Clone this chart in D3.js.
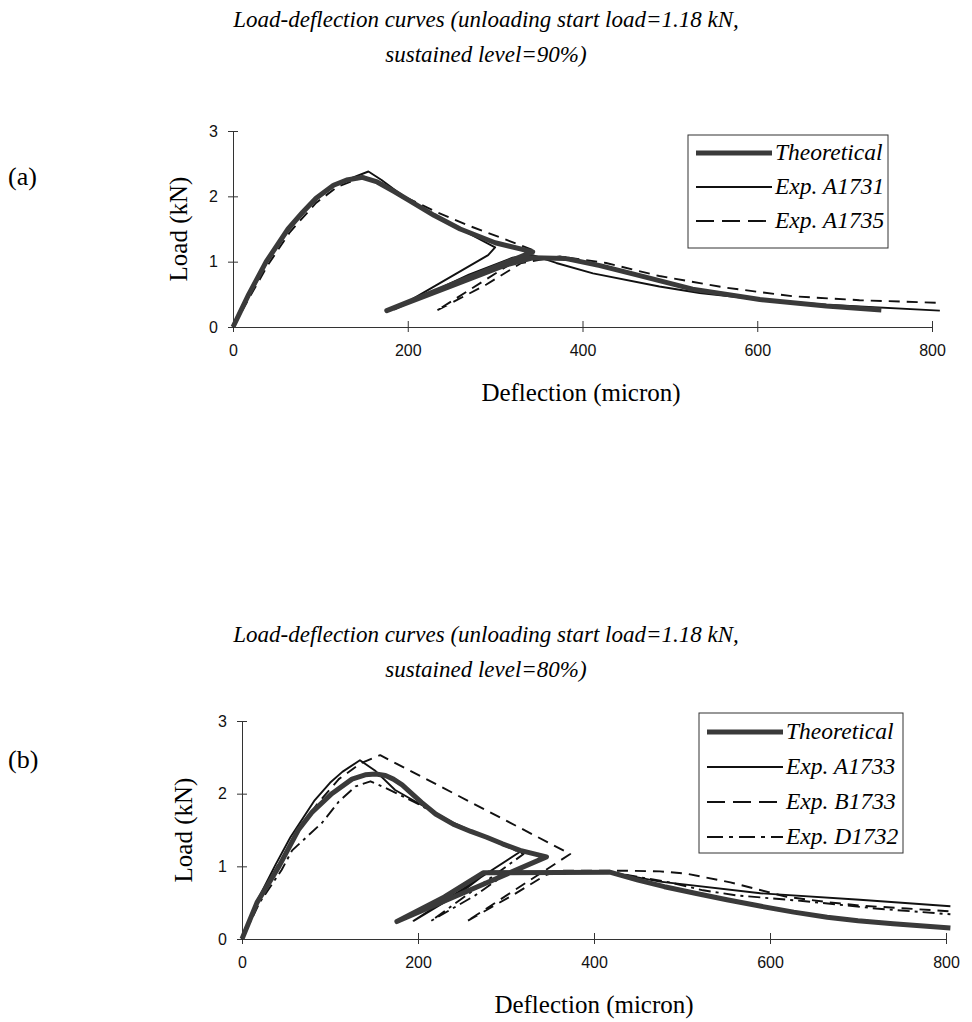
<!DOCTYPE html>
<html lang="en">
<head>
<meta charset="utf-8">
<title>Load-deflection curves</title>
<script src="https://cdnjs.cloudflare.com/ajax/libs/d3/7.8.5/d3.min.js"></script>
<style>
    body { margin: 0; background: #fff; }
    .title { font-family: "Liberation Serif", serif; font-style: italic; font-size: 23px; }
    .axlab { font-family: "Liberation Serif", serif; font-size: 25px; }
    .panel { font-family: "Liberation Serif", serif; font-size: 26px; }
    .tick text { font-family: "Liberation Sans", Arial, sans-serif; font-size: 16px; fill: #111; }
    .legtext { font-family: "Liberation Serif", serif; font-style: italic; font-size: 23.5px; }
</style>
</head>
<body>
<svg id="chart" width="972" height="1022"></svg>
<script>
    // deflection in micron, load in kN
    var xTicks = [0, 200, 400, 600, 800];
    var yTicks = [0, 1, 2, 3];

    // (a) sustained level 90%
    var theoA_x = [0, 18, 38, 63, 80, 95, 115, 130, 148, 165, 185, 200, 230, 260, 300, 343, 176, 250, 310, 343, 380, 420, 470, 526, 603, 679, 742];
    var theoA_y = [0, 0.5, 1.0, 1.5, 1.76, 1.97, 2.17, 2.25, 2.29, 2.22, 2.07, 1.95, 1.71, 1.5, 1.29, 1.15, 0.25, 0.63, 0.94, 1.06, 1.05, 0.94, 0.77, 0.58, 0.42, 0.32, 0.26];
    var a1731_x = [0, 20, 40, 65, 95, 120, 155, 170, 200, 230, 260, 300, 292, 185, 270, 320, 343, 370, 412, 488, 534, 603, 679, 809];
    var a1731_y = [0, 0.52, 1.02, 1.52, 1.95, 2.2, 2.38, 2.25, 1.95, 1.72, 1.5, 1.22, 1.1, 0.27, 0.8, 1.06, 1.1, 0.98, 0.82, 0.62, 0.52, 0.42, 0.34, 0.25];
    var a1735_x = [0, 20, 40, 65, 95, 120, 150, 170, 200, 233, 270, 310, 343, 233, 290, 330, 374, 427, 488, 565, 641, 717, 809];
    var a1735_y = [0, 0.48, 0.95, 1.45, 1.9, 2.15, 2.3, 2.2, 1.97, 1.76, 1.55, 1.35, 1.18, 0.25, 0.65, 0.98, 1.08, 0.98, 0.78, 0.6, 0.47, 0.41, 0.37];

    // (b) sustained level 80%
    var theoB_x = [0, 17, 42, 64, 80, 102, 125, 140, 152, 163, 172, 182, 192, 204, 220, 240, 260, 278, 296, 316, 346, 176, 230, 274, 418, 450, 480, 515, 551, 590, 627, 665, 700, 740, 805];
    var theoB_y = [0, 0.5, 1.0, 1.5, 1.75, 2.0, 2.2, 2.26, 2.27, 2.25, 2.2, 2.12, 2.01, 1.88, 1.72, 1.58, 1.48, 1.4, 1.31, 1.22, 1.13, 0.24, 0.58, 0.91, 0.92, 0.81, 0.72, 0.63, 0.54, 0.45, 0.37, 0.3, 0.25, 0.21, 0.15];
    var a1733_x = [0, 17, 38, 55, 82, 100, 114, 134, 151, 174, 190, 240, 280, 316, 195, 250, 280, 418, 475, 589, 702, 805];
    var a1733_y = [0, 0.52, 1.02, 1.4, 1.9, 2.15, 2.3, 2.46, 2.32, 2.05, 1.94, 1.6, 1.38, 1.2, 0.25, 0.65, 0.93, 0.92, 0.79, 0.63, 0.54, 0.45];
    var b1733_x = [0, 18, 40, 62, 85, 110, 135, 157, 373, 255, 310, 345, 361, 437, 475, 505, 555, 619, 664, 702, 755, 805];
    var b1733_y = [0, 0.5, 1.0, 1.45, 1.85, 2.2, 2.42, 2.53, 1.17, 0.24, 0.62, 0.88, 0.94, 0.94, 0.93, 0.9, 0.78, 0.58, 0.51, 0.46, 0.42, 0.38];
    var d1732_x = [0, 20, 45, 57, 91, 110, 129, 146, 163, 200, 240, 280, 320, 215, 265, 300, 418, 486, 524, 562, 640, 720, 805];
    var d1732_y = [0, 0.5, 0.95, 1.22, 1.6, 1.89, 2.1, 2.17, 2.08, 1.86, 1.58, 1.38, 1.17, 0.25, 0.6, 0.9, 0.92, 0.78, 0.67, 0.6, 0.52, 0.42, 0.34];

    var styles = {
        theo: {w: 5, c: "#3a3a3a", dash: null, leg: null},
        solid: {w: 1.9, c: "#111", dash: null, leg: null},
        dash: {w: 1.9, c: "#111", dash: "11,7", leg: "18,8"},
        dashdot: {w: 1.9, c: "#111", dash: "12,5,3,5", leg: "16,6,4,6"}
    };

    var svg = d3.select("#chart");

    function zip(xs, ys) {
        return xs.map(function (d, i) { return [d, ys[i]]; });
    }

    function drawPanel(cfg) {
        var x = d3.scaleLinear().domain([0, 800]).range([cfg.left, cfg.right]);
        var y = d3.scaleLinear().domain([0, 3]).range([cfg.bottom, cfg.top]);

        svg.selectAll(null).data(cfg.title).enter().append("text")
            .attr("class", "title")
            .attr("x", 486)
            .attr("y", function (d, i) { return cfg.titleY + i * 35; })
            .attr("text-anchor", "middle")
            .text(function (d) { return d; });

        svg.append("text").attr("class", "panel")
            .attr("x", 8).attr("y", cfg.panelY).text(cfg.panel);

        var xAxis = svg.append("g")
            .attr("transform", "translate(0," + cfg.bottom + ")")
            .call(d3.axisBottom(x).tickValues(xTicks).tickSize(5).tickPadding(13).tickFormat(d3.format("d")));
        xAxis.selectAll(".tick line").attr("y1", -6);
        var yAxis = svg.append("g")
            .attr("transform", "translate(" + cfg.left + ",0)")
            .call(d3.axisLeft(y).tickValues(yTicks).tickSize(5).tickPadding(10).tickFormat(d3.format("d")));
        yAxis.selectAll(".tick line").attr("x1", 5);
        svg.selectAll(".domain").attr("stroke", "#333");
        svg.selectAll(".tick line").attr("stroke", "#333");

        svg.append("text").attr("class", "axlab")
            .attr("text-anchor", "middle")
            .attr("transform", "translate(" + cfg.yLabX + "," + cfg.yLabY + ") rotate(-90)")
            .text("Load (kN)");
        svg.append("text").attr("class", "axlab")
            .attr("text-anchor", "middle")
            .attr("x", cfg.xLabX).attr("y", cfg.xLabY)
            .text("Deflection (micron)");

        var line = d3.line().x(function (d) { return x(d[0]); }).y(function (d) { return y(d[1]); });

        // experimental lines first, theoretical on top
        cfg.series.slice().reverse().forEach(function (s) {
            var st = styles[s.style];
            svg.append("path")
                .datum(zip(s.xs, s.ys))
                .attr("d", line)
                .attr("fill", "none")
                .attr("stroke", st.c)
                .attr("stroke-width", st.w)
                .attr("stroke-linejoin", "round")
                .attr("stroke-dasharray", st.dash);
        });

        // legend
        var lg = cfg.legend;
        svg.append("rect")
            .attr("x", lg.x).attr("y", lg.y)
            .attr("width", lg.w).attr("height", lg.h)
            .attr("fill", "#fff").attr("stroke", "#333").attr("stroke-width", 1);
        cfg.series.forEach(function (s, i) {
            var st = styles[s.style];
            var ry = lg.y + lg.row0 + i * lg.step;
            svg.append("line")
                .attr("x1", lg.x + 8).attr("x2", lg.x + 84)
                .attr("y1", ry).attr("y2", ry)
                .attr("stroke", st.c)
                .attr("stroke-width", st.w)
                .attr("stroke-dasharray", st.leg);
            svg.append("text").attr("class", "legtext")
                .attr("x", lg.x + 87).attr("y", ry + 7)
                .text(s.name);
        });
    }

    drawPanel({
        left: 233, right: 932, top: 131, bottom: 327,
        title: ["Load-deflection curves (unloading start load=1.18 kN,", "sustained level=90%)"],
        titleY: 27, panel: "(a)", panelY: 185,
        yLabX: 187, yLabY: 229, xLabX: 581, xLabY: 401,
        legend: {x: 688, y: 135, w: 200, h: 113, row0: 18, step: 34},
        series: [
            {name: "Theoretical", style: "theo", xs: theoA_x, ys: theoA_y},
            {name: "Exp. A1731", style: "solid", xs: a1731_x, ys: a1731_y},
            {name: "Exp. A1735", style: "dash", xs: a1735_x, ys: a1735_y}
        ]
    });

    drawPanel({
        left: 242, right: 946, top: 721, bottom: 939,
        title: ["Load-deflection curves (unloading start load=1.18 kN,", "sustained level=80%)"],
        titleY: 642, panel: "(b)", panelY: 768,
        yLabX: 192, yLabY: 830, xLabX: 594, xLabY: 1013,
        legend: {x: 699, y: 713, w: 204, h: 140, row0: 19, step: 35},
        series: [
            {name: "Theoretical", style: "theo", xs: theoB_x, ys: theoB_y},
            {name: "Exp. A1733", style: "solid", xs: a1733_x, ys: a1733_y},
            {name: "Exp. B1733", style: "dash", xs: b1733_x, ys: b1733_y},
            {name: "Exp. D1732", style: "dashdot", xs: d1732_x, ys: d1732_y}
        ]
    });
</script>
</body>
</html>
